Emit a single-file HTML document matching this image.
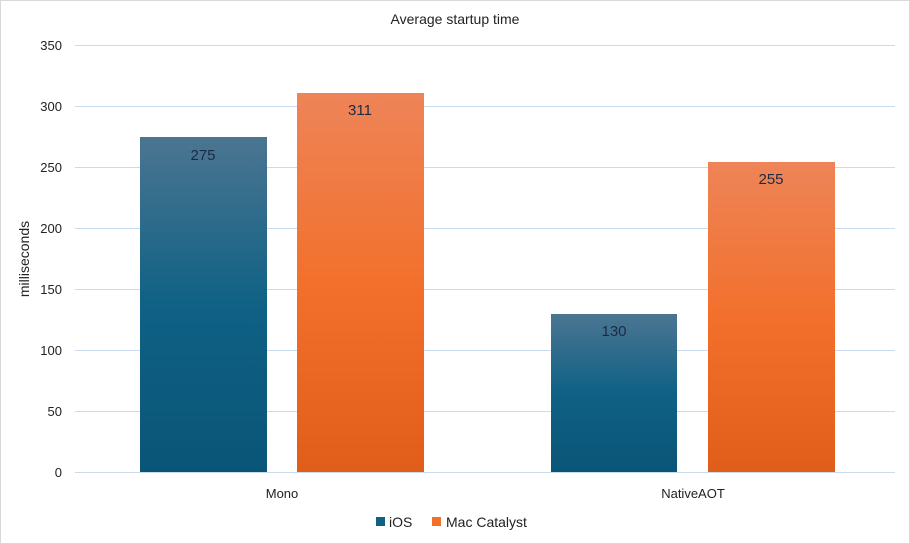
<!DOCTYPE html>
<html><head><meta charset="utf-8"><style>
body{margin:0;background:#fff}
svg{display:block;font-family:"Liberation Sans",sans-serif}
</style></head><body>
<svg width="910" height="544" viewBox="0 0 910 544">
<defs>
<linearGradient id="b" x1="0" y1="0" x2="0" y2="1">
<stop offset="0" stop-color="#4b7592"/><stop offset="0.5" stop-color="#0f6185"/><stop offset="1" stop-color="#0a5577"/></linearGradient>
<linearGradient id="o" x1="0" y1="0" x2="0" y2="1">
<stop offset="0" stop-color="#ee8458"/><stop offset="0.5" stop-color="#f2702c"/><stop offset="1" stop-color="#e05d1a"/></linearGradient>
</defs>
<rect x="0.5" y="0.5" width="909" height="543" fill="#fff" stroke="#d9d9d9"/>
<text x="455" y="24" font-size="14" text-anchor="middle" fill="#222">Average startup time</text>
<g stroke="#c9dcef" stroke-width="1">
<line x1="75" x2="895" y1="45.5" y2="45.5"/><line x1="75" x2="895" y1="106.5" y2="106.5"/>
<line x1="75" x2="895" y1="167.5" y2="167.5"/><line x1="75" x2="895" y1="228.5" y2="228.5"/>
<line x1="75" x2="895" y1="289.5" y2="289.5"/><line x1="75" x2="895" y1="350.5" y2="350.5"/>
<line x1="75" x2="895" y1="411.5" y2="411.5"/><line x1="75" x2="895" y1="472.5" y2="472.5"/>
</g>
<g font-size="13" fill="#222" text-anchor="end">
<text x="62" y="50">350</text><text x="62" y="111">300</text><text x="62" y="172">250</text>
<text x="62" y="233">200</text><text x="62" y="294">150</text><text x="62" y="355">100</text>
<text x="62" y="416">50</text><text x="62" y="477">0</text>
</g>
<text transform="translate(29,259) rotate(-90)" font-size="14" text-anchor="middle" fill="#222">milliseconds</text>
<rect x="140" y="137" width="127" height="335" fill="url(#b)"/>
<rect x="297" y="93" width="127" height="379" fill="url(#o)"/>
<rect x="551" y="314" width="126" height="158" fill="url(#b)"/>
<rect x="708" y="162" width="127" height="310" fill="url(#o)"/>
<g font-size="15" fill="#1c2b44" text-anchor="middle">
<text x="203" y="160">275</text><text x="360" y="115">311</text>
<text x="614" y="336">130</text><text x="771" y="184">255</text>
</g>
<g font-size="13" fill="#222" text-anchor="middle">
<text x="282" y="498">Mono</text><text x="693" y="498">NativeAOT</text>
</g>
<rect x="376" y="517" width="9" height="9" fill="#0f6185"/>
<text x="389" y="527" font-size="14" fill="#222">iOS</text>
<rect x="432" y="517" width="9" height="9" fill="#f2702c"/>
<text x="446" y="527" font-size="14" fill="#222">Mac Catalyst</text>
</svg>
</body></html>
